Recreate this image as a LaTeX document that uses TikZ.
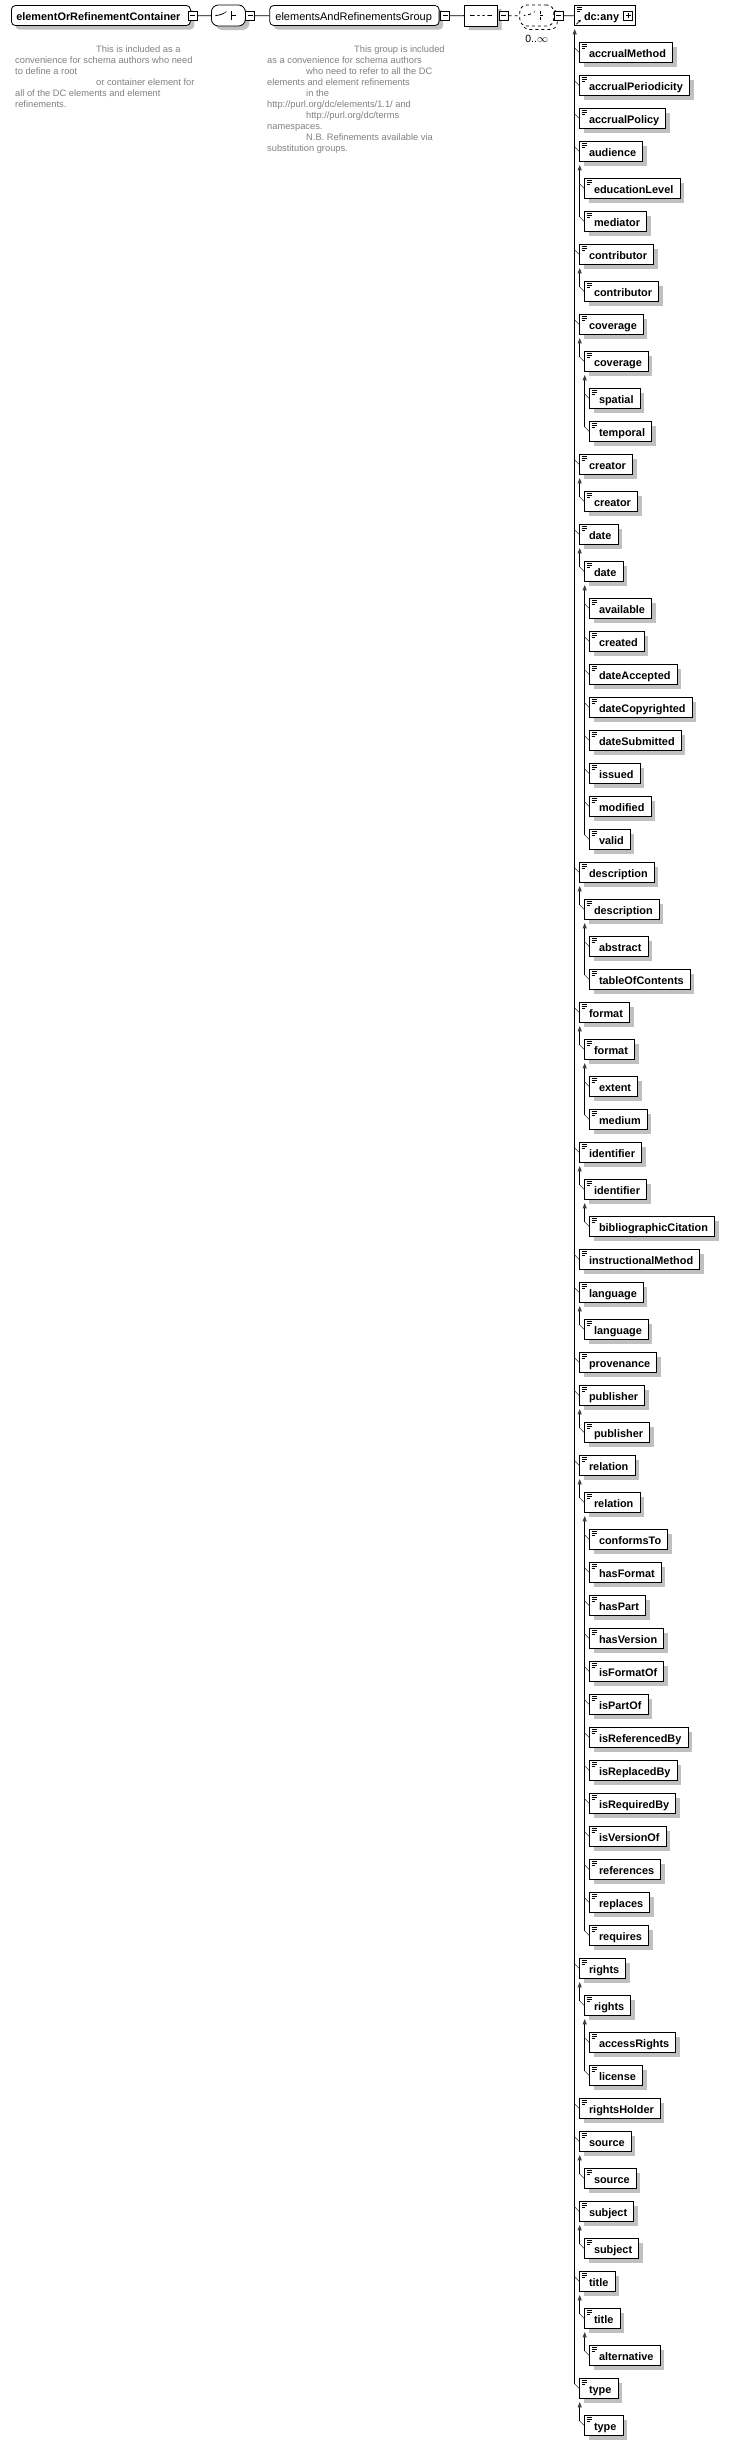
\documentclass[tikz,border=0pt]{standalone}
\usepackage{fontspec}
\setmainfont{Liberation Sans}
\usetikzlibrary{arrows.meta,shadows,shapes.misc}
\definecolor{shadowgray}{RGB}{192,192,192}
\definecolor{notegray}{RGB}{128,128,128}
\definecolor{tipgray}{RGB}{64,64,64}

\begin{document}
\begin{tikzpicture}[x=1pt, y=-1pt,
    elembox/.style={draw, line width=0.8pt, fill=white, anchor=west, inner xsep=0pt, inner ysep=0pt,
        minimum height=20pt, text height=10pt, text depth=0.6pt,
        font=\fontsize{10.9}{12}\selectfont\bfseries,
        execute at begin node=\hspace*{9.3pt}, execute at end node=\hspace*{6.6pt},
        path picture={
            \draw[line width=0.6pt]
                ([xshift=2pt,yshift=-2pt]path picture bounding box.north west) -- ++(5pt,0pt)
                ([xshift=2pt,yshift=-3.8pt]path picture bounding box.north west) -- ++(5pt,0pt)
                ([xshift=2pt,yshift=-5.6pt]path picture bounding box.north west) -- ++(3.5pt,0pt);
        }},
    elem/.style={elembox, drop shadow={shadow xshift=4pt, shadow yshift=-4pt, fill=shadowgray, opacity=1}},
    topbox/.style={draw, line width=0.8pt, fill=white, anchor=west, rounded corners=4pt, inner xsep=0pt,
        inner ysep=0pt, minimum height=20pt, text height=10pt, text depth=0.6pt,
        drop shadow={shadow xshift=4pt, shadow yshift=-4pt, fill=shadowgray, opacity=1}},
    toggle/.style={draw, line width=0.7pt, fill=white, minimum size=9pt, inner sep=0pt,
        path picture={\draw[line width=0.8pt] ([xshift=2pt]path picture bounding box.west)
            -- ([xshift=-2pt]path picture bounding box.east);}},
    expand/.style={draw, line width=0.7pt, fill=white, minimum size=9pt, inner sep=0pt,
        path picture={\draw[line width=0.8pt] ([xshift=2pt]path picture bounding box.west)
            -- ([xshift=-2pt]path picture bounding box.east)
            ([yshift=2pt]path picture bounding box.south) -- ([yshift=-2pt]path picture bounding box.north);}},
    choicebox/.style={draw, line width=0.8pt, fill=white, rectangle, rounded corners=7pt,
        minimum width=34pt, minimum height=21pt, inner sep=0pt,
        path picture={
            \draw[line width=0.8pt] ([xshift=-11.5pt]path picture bounding box.center) -- ++(5.5pt,0pt) -- ++(5pt,4.5pt);
            \fill ([xshift=-0.2pt,yshift=3.2pt]path picture bounding box.center) rectangle ++(2.2pt,2.2pt)
                ([xshift=-0.2pt,yshift=-1.1pt]path picture bounding box.center) rectangle ++(2.2pt,2.2pt)
                ([xshift=-0.2pt,yshift=-5.4pt]path picture bounding box.center) rectangle ++(2.2pt,2.2pt);
            \draw[line width=0.8pt] ([xshift=3.4pt,yshift=4.3pt]path picture bounding box.center) -- ++(0pt,-8.6pt)
                ([xshift=3.4pt]path picture bounding box.center) -- ++(4.5pt,0pt);
        }},
    seqbox/.style={draw, line width=0.8pt, fill=white, chamfered rectangle, chamfered rectangle xsep=4pt,
        chamfered rectangle ysep=4pt, minimum width=33pt, minimum height=21pt, inner sep=0pt,
        drop shadow={shadow xshift=4pt, shadow yshift=-4pt, fill=shadowgray, opacity=1},
        path picture={
            \draw[line width=0.8pt] ([xshift=-11pt]path picture bounding box.center) -- ([xshift=11pt]path picture bounding box.center);
            \fill ([xshift=-6.3pt,yshift=-1.3pt]path picture bounding box.center) rectangle ++(2.6pt,2.6pt)
                ([xshift=-1.3pt,yshift=-1.3pt]path picture bounding box.center) rectangle ++(2.6pt,2.6pt)
                ([xshift=3.7pt,yshift=-1.3pt]path picture bounding box.center) rectangle ++(2.6pt,2.6pt);
        }},
    note/.style={anchor=north west, inner sep=0pt, align=left, text=notegray, font=\fontsize{9.3}{10.9}\selectfont},
    trunk/.style={line width=0.9pt, -{Triangle[width=4pt,length=5.5pt,fill=tipgray,color=tipgray]}},
    stub/.style={line width=0.6pt, black!80}]

    \useasboundingbox (0,0) rectangle (729,2445);

    % Container element and its group
    \node[topbox, minimum width=179pt, font=\fontsize{10.9}{12}\selectfont\bfseries] (container) at (11,15.5)
        {elementOrRefinementContainer\hspace*{5pt}};
    \node[toggle] (container-minus) at (192.5,15.8) {};
    \node[choicebox, drop shadow={shadow xshift=4pt, shadow yshift=-4pt, fill=shadowgray, opacity=1}] (choice) at (228.4,15.5) {};
    \node[toggle] (choice-minus) at (250,15.8) {};
    \node[topbox, minimum width=169.4pt, font=\fontsize{11}{12}\selectfont] (group) at (269.3,15.5)
        {elementsAndRefinementsGroup\hspace*{1.4pt}};
    \node[toggle] (group-minus) at (445,15.8) {};

    % Sequence and the repeated choice
    \node[seqbox] (sequence) at (481,15.5) {};
    \node[toggle] (sequence-minus) at (503.7,15.8) {};
    \draw[dashed, line width=0.7pt, rounded corners=7pt] (522.3,8.5) rectangle (557.3,29.5);
    \node[choicebox, dashed] (any-choice) at (536.8,15.5) {};
    \node[font=\fontsize{10.5}{12}\selectfont, inner sep=0pt] (any-occurs) at (536.7,39) {0..$\infty$};
    \node[toggle] (any-choice-minus) at (558.8,15.8) {};
    \node[elembox, execute at end node=\hspace*{9.6pt}] (dcany) at (574.3,15.5) {dc:any};
    \node[expand] (dcany-plus) at (628.3,15.8) {};
    \draw[line width=0.7pt, -{Triangle[width=2.6pt,length=2.4pt]}] ([xshift=2pt,yshift=1.6pt]dcany.south west) -- ++(4.5pt,4.5pt);

    % Top row connectors
    \draw[line width=0.8pt] (container-minus) -- (choice);
    \draw[line width=0.8pt] (choice-minus) -- (group);
    \draw[line width=0.8pt] (group-minus) -- (sequence);
    \draw[line width=0.8pt, dashed] (sequence-minus) -- (any-choice);
    \draw[line width=0.8pt] (any-choice-minus) -- (dcany);

    % Annotations
    \node[note] (container-doc) at (15,46) {\hspace*{81pt}This is included as a\\
        convenience for schema authors who need\\
        to define a root\\
        \hspace*{81pt}or container element for\\
        all of the DC elements and element\\
        refinements.};
    \node[note] (group-doc) at (267,46) {\hspace*{87pt}This group is included\\
        as a convenience for schema authors\\
        \hspace*{39pt}who need to refer to all the DC\\
        elements and element refinements\\
        \hspace*{39pt}in the\\
        http://purl.org/dc/elements/1.1/ and\\
        \hspace*{39pt}http://purl.org/dc/terms\\
        namespaces.\\
        \hspace*{39pt}N.B. Refinements available via\\
        substitution groups.};

    % Substitution group members of dc:any
    \node[elem] (accrualMethod) at (579.3,52.5) {accrualMethod};
    \node[elem] (accrualPeriodicity) at (579.3,85.5) {accrualPeriodicity};
    \node[elem] (accrualPolicy) at (579.3,118.5) {accrualPolicy};
    \node[elem] (audience) at (579.3,151.5) {audience};
    \node[elem] (educationLevel) at (584.3,188.5) {educationLevel};
    \node[elem] (mediator) at (584.3,221.5) {mediator};
    \node[elem] (contributor) at (579.3,254.5) {contributor};
    \node[elem] (contributor-2) at (584.3,291.5) {contributor};
    \node[elem] (coverage) at (579.3,324.5) {coverage};
    \node[elem] (coverage-2) at (584.3,361.5) {coverage};
    \node[elem] (spatial) at (589.3,398.5) {spatial};
    \node[elem] (temporal) at (589.3,431.5) {temporal};
    \node[elem] (creator) at (579.3,464.5) {creator};
    \node[elem] (creator-2) at (584.3,501.5) {creator};

    % Dates
    \node[elem] (date) at (579.3,534.5) {date};
    \node[elem] (date-2) at (584.3,571.5) {date};
    \node[elem] (available) at (589.3,608.5) {available};
    \node[elem] (created) at (589.3,641.5) {created};
    \node[elem] (dateAccepted) at (589.3,674.5) {dateAccepted};
    \node[elem] (dateCopyrighted) at (589.3,707.5) {dateCopyrighted};
    \node[elem] (dateSubmitted) at (589.3,740.5) {dateSubmitted};
    \node[elem] (issued) at (589.3,773.5) {issued};
    \node[elem] (modified) at (589.3,806.5) {modified};
    \node[elem] (valid) at (589.3,839.5) {valid};

    \node[elem] (description) at (579.3,872.5) {description};
    \node[elem] (description-2) at (584.3,909.5) {description};
    \node[elem] (abstract) at (589.3,946.5) {abstract};
    \node[elem] (tableOfContents) at (589.3,979.5) {tableOfContents};
    \node[elem] (format) at (579.3,1012.5) {format};
    \node[elem] (format-2) at (584.3,1049.5) {format};
    \node[elem] (extent) at (589.3,1086.5) {extent};
    \node[elem] (medium) at (589.3,1119.5) {medium};
    \node[elem] (identifier) at (579.3,1152.5) {identifier};
    \node[elem] (identifier-2) at (584.3,1189.5) {identifier};
    \node[elem] (bibliographicCitation) at (589.3,1226.5) {bibliographicCitation};
    \node[elem] (instructionalMethod) at (579.3,1259.5) {instructionalMethod};
    \node[elem] (language) at (579.3,1292.5) {language};
    \node[elem] (language-2) at (584.3,1329.5) {language};
    \node[elem] (provenance) at (579.3,1362.5) {provenance};
    \node[elem] (publisher) at (579.3,1395.5) {publisher};
    \node[elem] (publisher-2) at (584.3,1432.5) {publisher};

    % Relations
    \node[elem] (relation) at (579.3,1465.5) {relation};
    \node[elem] (relation-2) at (584.3,1502.5) {relation};
    \node[elem] (conformsTo) at (589.3,1539.5) {conformsTo};
    \node[elem] (hasFormat) at (589.3,1572.5) {hasFormat};
    \node[elem] (hasPart) at (589.3,1605.5) {hasPart};
    \node[elem] (hasVersion) at (589.3,1638.5) {hasVersion};
    \node[elem] (isFormatOf) at (589.3,1671.5) {isFormatOf};
    \node[elem] (isPartOf) at (589.3,1704.5) {isPartOf};
    \node[elem] (isReferencedBy) at (589.3,1737.5) {isReferencedBy};
    \node[elem] (isReplacedBy) at (589.3,1770.5) {isReplacedBy};
    \node[elem] (isRequiredBy) at (589.3,1803.5) {isRequiredBy};
    \node[elem] (isVersionOf) at (589.3,1836.5) {isVersionOf};
    \node[elem] (references) at (589.3,1869.5) {references};
    \node[elem] (replaces) at (589.3,1902.5) {replaces};
    \node[elem] (requires) at (589.3,1935.5) {requires};

    \node[elem] (rights) at (579.3,1968.5) {rights};
    \node[elem] (rights-2) at (584.3,2005.5) {rights};
    \node[elem] (accessRights) at (589.3,2042.5) {accessRights};
    \node[elem] (license) at (589.3,2075.5) {license};
    \node[elem] (rightsHolder) at (579.3,2108.5) {rightsHolder};
    \node[elem] (source) at (579.3,2141.5) {source};
    \node[elem] (source-2) at (584.3,2178.5) {source};
    \node[elem] (subject) at (579.3,2211.5) {subject};
    \node[elem] (subject-2) at (584.3,2248.5) {subject};
    \node[elem] (title) at (579.3,2281.5) {title};
    \node[elem] (title-2) at (584.3,2318.5) {title};
    \node[elem] (alternative) at (589.3,2355.5) {alternative};
    \node[elem] (type) at (579.3,2388.5) {type};
    \node[elem] (type-2) at (584.3,2425.5) {type};

    % Trunks, from the last member up to the head
    \foreach \last/\head in {type/dcany, mediator/audience, contributor-2/contributor, coverage-2/coverage,
            temporal/coverage-2, creator-2/creator, date-2/date, valid/date-2, description-2/description,
            tableOfContents/description-2, format-2/format, medium/format-2, identifier-2/identifier,
            bibliographicCitation/identifier-2, language-2/language, publisher-2/publisher,
            relation-2/relation, requires/relation-2, rights-2/rights, license/rights-2, source-2/source,
            subject-2/subject, title-2/title, alternative/title-2, type-2/type}
        \draw[trunk] (\last.west) ++(-4.6,-4.6) -- ([xshift=0.4pt,yshift=-3pt]\head.south west);

    % Stubs into each member
    \foreach \el in {accrualMethod, accrualPeriodicity, accrualPolicy, audience, educationLevel, mediator,
            contributor, contributor-2, coverage, coverage-2, spatial, temporal, creator, creator-2,
            date, date-2, available, created, dateAccepted, dateCopyrighted, dateSubmitted, issued,
            modified, valid, description, description-2, abstract, tableOfContents, format, format-2,
            extent, medium, identifier, identifier-2, bibliographicCitation, instructionalMethod,
            language, language-2, provenance, publisher, publisher-2, relation, relation-2, conformsTo,
            hasFormat, hasPart, hasVersion, isFormatOf, isPartOf, isReferencedBy, isReplacedBy,
            isRequiredBy, isVersionOf, references, replaces, requires, rights, rights-2, accessRights,
            license, rightsHolder, source, source-2, subject, subject-2, title, title-2, alternative,
            type, type-2}
        \draw[stub] (\el.west) -- ++(-4.6,-4.6);
\end{tikzpicture}
\end{document}
